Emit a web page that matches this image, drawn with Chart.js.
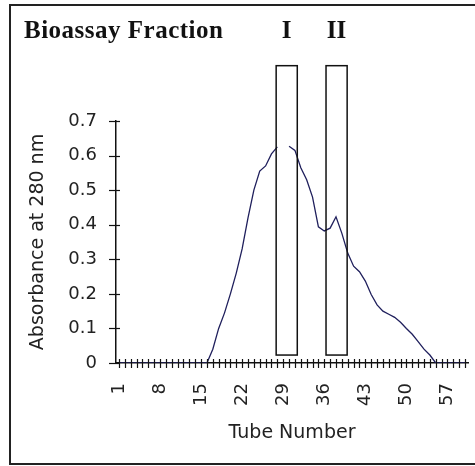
<!DOCTYPE html>
<html>
<head>
<meta charset="utf-8">
<script src="https://cdn.jsdelivr.net/npm/chart.js@4"></script>
<style>
  html, body { margin: 0; padding: 0; background: #fff; overflow: hidden; }
  #wrap { position: relative; width: 475px; height: 466px; overflow: hidden; }
  #frame { position: absolute; left: 9px; top: 4px; width: 480px; height: 457px; border: 2px solid #222; }
  #chart { position: absolute; left: 0; top: 0; }
</style>
</head>
<body>
<div id="wrap">
  <div id="frame"></div>
  <canvas id="chart" width="475" height="466"></canvas>
</div>
<script>
// Absorbance profile, one reading per tube
const tubes = [1, 2, 3, 4, 5, 6, 7, 8, 9, 10, 11, 12, 13, 14, 15, 16, 17, 18, 19, 20,
  21, 22, 23, 24, 25, 26, 27, 28, 29, 30, 31, 32, 33, 34, 35, 36, 37, 38, 39, 40,
  41, 42, 43, 44, 45, 46, 47, 48, 49, 50, 51, 52, 53, 54, 55, 56, 57, 58, 59, 60];
const absorbance = [0, 0, 0, 0, 0, 0, 0, 0, 0, 0, 0, 0, 0, 0, 0, 0, 0.04, 0.10, 0.145, 0.20,
  0.26, 0.33, 0.42, 0.50, 0.555, 0.57, 0.605, 0.625, null, 0.627, 0.615, 0.565, 0.53, 0.48, 0.394, 0.382, 0.39, 0.423, 0.375, 0.318,
  0.28, 0.264, 0.237, 0.198, 0.168, 0.15, 0.141, 0.132, 0.118, 0.10, 0.083, 0.062, 0.04, 0.023, 0, 0, 0, 0, 0, 0];

const xTickLabels = [1, 8, 15, 22, 29, 36, 43, 50, 57];
const yTicks = [0, 0.1, 0.2, 0.3, 0.4, 0.5, 0.6, 0.7];

// bioassay fractions (tube ranges, absorbance extent of the boxes)
const fractionNames = ['I', 'II'];
const fractionStart = [27.8, 36.3];
const fractionEnd = [31.4, 39.9];
const fractionTop = [0.86, 0.86];
const fractionBottom = [0.023, 0.023];

const TEXT = '#222';
const LINE = '#1f1f5c';

Chart.defaults.font.family = '"DejaVu Sans", Verdana, sans-serif';
Chart.defaults.color = TEXT;

// boxes, crossing tick marks, header text
const overlay = {
  id: 'overlay',
  afterDatasetsDraw(chart) {
    const ctx = chart.ctx;
    const x = chart.scales.x, y = chart.scales.y;
    ctx.save();

    // tick marks crossing both axes
    ctx.strokeStyle = '#111';
    ctx.lineWidth = 1.2;
    const y0 = y.getPixelForValue(0);
    tubes.forEach(t => {
      const px = Math.round(x.getPixelForValue(t)) + 0.5;
      ctx.beginPath();
      ctx.moveTo(px, y0 - 4);
      ctx.lineTo(px, y0 + 5);
      ctx.stroke();
    });
    const x0 = x.left;
    yTicks.forEach(v => {
      const py = Math.round(y.getPixelForValue(v)) + 0.5;
      ctx.beginPath();
      ctx.moveTo(x0 - 7, py);
      ctx.lineTo(x0 + 4, py);
      ctx.stroke();
    });

    // fraction boxes
    ctx.strokeStyle = '#111';
    ctx.lineWidth = 1.5;
    fractionNames.forEach((name, i) => {
      const l = x.getPixelForValue(fractionStart[i]);
      const r = x.getPixelForValue(fractionEnd[i]);
      const t = y.getPixelForValue(fractionTop[i]);
      const b = y.getPixelForValue(fractionBottom[i]);
      ctx.strokeRect(l, t, r - l, b - t);
    });

    // header
    ctx.fillStyle = '#111';
    ctx.textBaseline = 'alphabetic';
    ctx.font = 'bold 25px "Liberation Serif", "Times New Roman", serif';
    ctx.letterSpacing = '0.5px';
    ctx.textAlign = 'left';
    ctx.fillText('Bioassay Fraction', 24, 38);
    ctx.letterSpacing = '0px';
    fractionNames.forEach((name, i) => {
      ctx.textAlign = 'center';
      const cx = x.getPixelForValue((fractionStart[i] + fractionEnd[i]) / 2);
      ctx.fillText(name, cx, 38);
    });
    ctx.restore();
  }
};

new Chart(document.getElementById('chart'), {
  type: 'line',
  data: {
    datasets: [{
      label: 'Absorbance',
      data: tubes.map((t, i) => ({ x: t, y: absorbance[i] })),
      borderColor: LINE,
      borderWidth: 1.3,
      pointRadius: 0,
      tension: 0,
      spanGaps: false,
      fill: false
    }]
  },
  options: {
    responsive: false,
    animation: false,
    layout: { padding: { top: 121, right: 7, left: 0, bottom: 0 } },
    plugins: { legend: { display: false }, tooltip: { enabled: false } },
    scales: {
      x: {
        type: 'linear',
        min: 0.5,
        max: 60.5,
        afterFit: s => { s.height = 103; s.paddingLeft = 0; s.paddingRight = 0; },
        afterBuildTicks: s => { s.ticks = xTickLabels.map(v => ({ value: v })); },
        ticks: {
          autoSkip: false,
          maxRotation: 90,
          minRotation: 90,
          padding: 14,
          font: { size: 18 },
          color: TEXT,
          callback: v => String(v)
        },
        grid: { drawOnChartArea: false, color: 'rgba(0,0,0,0)', tickLength: 6 },
        border: { color: '#111', width: 1.5 },
        title: {
          display: true,
          text: 'Tube Number',
          font: { size: 19 },
          color: TEXT,
          padding: { top: 0, bottom: 22 }
        }
      },
      y: {
        min: 0,
        max: 0.7,
        afterFit: s => { s.width = 116; s.paddingTop = 0; s.paddingBottom = 0; },
        afterBuildTicks: s => { s.ticks = yTicks.map(v => ({ value: v })); },
        ticks: {
          padding: 13,
          font: { size: 18 },
          color: TEXT,
          callback: v => v === 0 ? '0' : v.toFixed(1)
        },
        grid: { drawOnChartArea: false, color: 'rgba(0,0,0,0)', tickLength: 6 },
        border: { color: '#111', width: 1.5 },
        title: {
          display: true,
          text: 'Absorbance at 280 nm',
          font: { size: 19 },
          color: TEXT,
          padding: { top: 27, bottom: 0 }
        }
      }
    }
  },
  plugins: [overlay]
});
</script>
</body>
</html>
